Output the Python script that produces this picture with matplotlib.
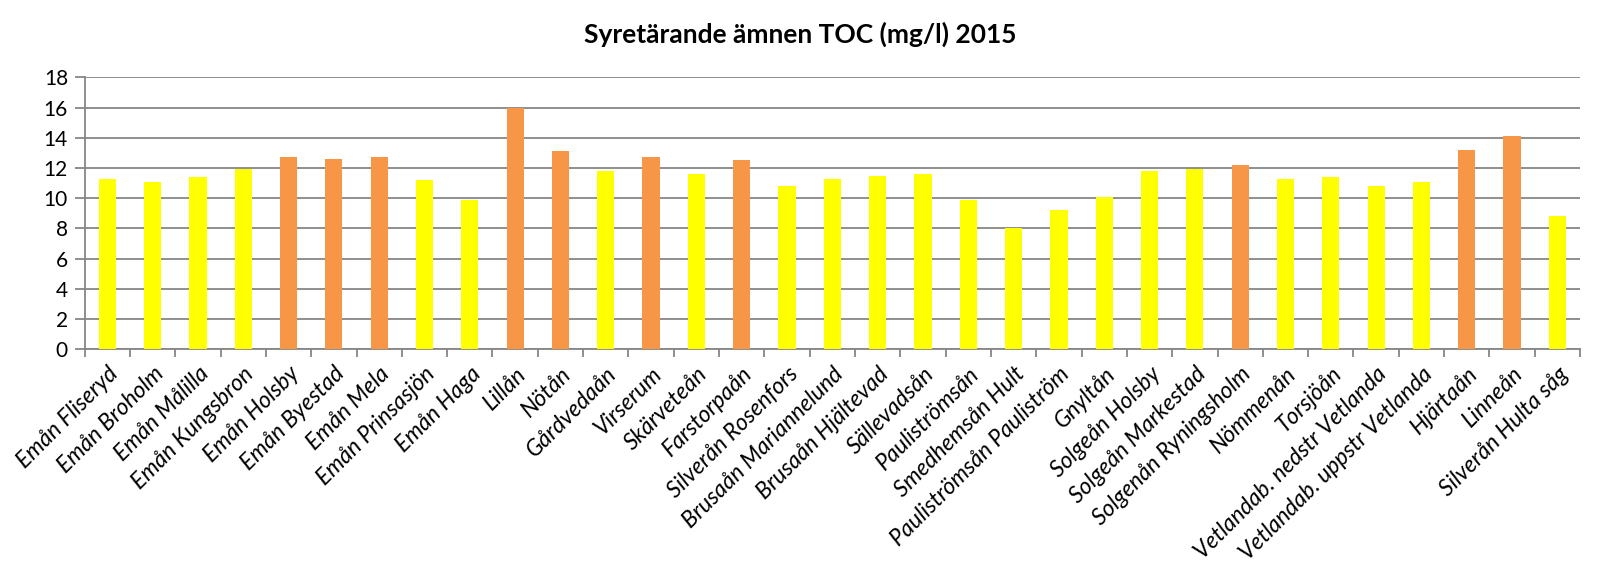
import matplotlib
matplotlib.use("Agg")
import matplotlib.pyplot as plt
import numpy as np

plt.rcParams['font.family'] = ['Lato', 'DejaVu Sans']

# Data
stationer = [
    "Emån Fliseryd", "Emån Broholm", "Emån Målilla", "Emån Kungsbron",
    "Emån Holsby", "Emån Byestad", "Emån Mela", "Emån Prinsasjön",
    "Emån Haga", "Lillån", "Nötån", "Gårdvedaån", "Virserum",
    "Skärveteån", "Farstorpaån", "Silverån Rosenfors",
    "Brusaån Mariannelund", "Brusaån Hjältevad", "Sällevadsån",
    "Pauliströmsån", "Smedhemsån Hult", "Pauliströmsån Pauliström",
    "Gnyltån", "Solgeån Holsby", "Solgeån Markestad",
    "Solgenån Ryningsholm", "Nömmenån", "Torsjöån",
    "Vetlandab. nedstr Vetlanda", "Vetlandab. uppstr Vetlanda",
    "Hjärtaån", "Linneån", "Silverån Hulta såg",
]
toc = [
    11.3, 11.1, 11.4, 11.9, 12.7, 12.6, 12.7, 11.2, 9.9, 16.0, 13.1,
    11.8, 12.7, 11.6, 12.5, 10.8, 11.3, 11.5, 11.6, 9.9, 8.0, 9.2,
    10.1, 11.8, 11.9, 12.2, 11.3, 11.4, 10.8, 11.1, 13.2, 14.1, 8.8,
]
# 1 = high TOC (orange), 0 = yellow
hog = [
    0, 0, 0, 0, 1, 1, 1, 0, 0, 1, 1,
    0, 1, 0, 1, 0, 0, 0, 0, 0, 0, 0,
    0, 0, 0, 1, 0, 0, 0, 0, 1, 1, 0,
]

farger = ['#F79646' if h else '#FFFF00' for h in hog]

fig = plt.figure(figsize=(16.03, 5.78), dpi=100)
ax = fig.add_axes([0.0528, 0.3957, 0.9329, 0.4706])

x = np.arange(len(stationer))
ax.bar(x, toc, width=0.38, color=farger, zorder=3)

ax.set_xlim(-0.5, len(stationer) - 0.5)
ax.set_ylim(0, 18)
ax.set_yticks(np.arange(0, 19, 2))
ax.yaxis.grid(True, color='#868686', linewidth=1.3, zorder=0)
ax.tick_params(axis='y', length=7, width=1.3, color='#868686', labelsize=15, pad=5)

ax.set_xticks(x)
ax.set_xticklabels(stationer, rotation=45, ha='right', rotation_mode='anchor',
                   fontstyle='italic', fontsize=16.5)
ax.set_xticks(np.arange(-0.5, len(stationer)), minor=True)
ax.tick_params(axis='x', which='major', length=0, pad=10)
ax.tick_params(axis='x', which='minor', length=6, width=1.3, color='#868686')

for s in ['top', 'right']:
    ax.spines[s].set_visible(False)
for s in ['left', 'bottom']:
    ax.spines[s].set_color('#868686')
    ax.spines[s].set_linewidth(1.3)

fig.text(0.4995, 0.94, "Syretärande ämnen TOC (mg/l) 2015", ha='center', va='center',
         fontsize=19, fontweight='bold')

fig.savefig("out.png", dpi=100)
